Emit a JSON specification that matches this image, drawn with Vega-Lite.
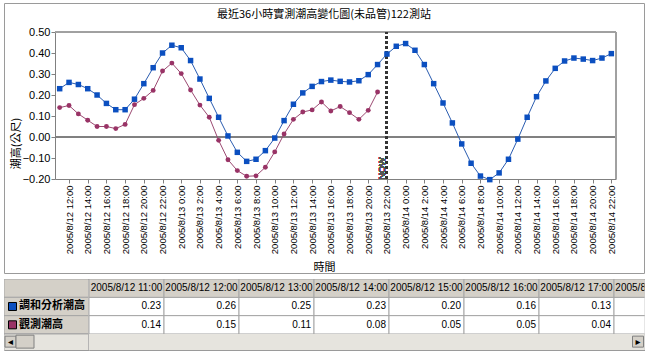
{
  "$schema": "https://vega.github.io/schema/vega-lite/v6.json",
  "padding": {"left": 2, "top": 2, "right": 0, "bottom": 0},
  "background": "white",
  "bounds": "flush",
  "spacing": 6,
  "config": {"view": {"stroke": "#9a9a9a", "strokeWidth": 1}, "font": "Liberation Sans"},
  "datasets": {
    "tide": [
      {"t": "2005-08-12T11:00Z", "h": 0.23, "o": 0.14},
      {"t": "2005-08-12T12:00Z", "h": 0.26, "o": 0.15},
      {"t": "2005-08-12T13:00Z", "h": 0.25, "o": 0.11},
      {"t": "2005-08-12T14:00Z", "h": 0.23, "o": 0.08},
      {"t": "2005-08-12T15:00Z", "h": 0.20, "o": 0.05},
      {"t": "2005-08-12T16:00Z", "h": 0.16, "o": 0.05},
      {"t": "2005-08-12T17:00Z", "h": 0.13, "o": 0.04},
      {"t": "2005-08-12T18:00Z", "h": 0.13, "o": 0.06},
      {"t": "2005-08-12T19:00Z", "h": 0.18, "o": 0.154},
      {"t": "2005-08-12T20:00Z", "h": 0.254, "o": 0.184},
      {"t": "2005-08-12T21:00Z", "h": 0.33, "o": 0.222},
      {"t": "2005-08-12T22:00Z", "h": 0.40, "o": 0.314},
      {"t": "2005-08-12T23:00Z", "h": 0.437, "o": 0.352},
      {"t": "2005-08-13T00:00Z", "h": 0.425, "o": 0.302},
      {"t": "2005-08-13T01:00Z", "h": 0.364, "o": 0.224},
      {"t": "2005-08-13T02:00Z", "h": 0.276, "o": 0.152},
      {"t": "2005-08-13T03:00Z", "h": 0.184, "o": 0.094},
      {"t": "2005-08-13T04:00Z", "h": 0.094, "o": -0.016},
      {"t": "2005-08-13T05:00Z", "h": 0.005, "o": -0.108},
      {"t": "2005-08-13T06:00Z", "h": -0.073, "o": -0.16},
      {"t": "2005-08-13T07:00Z", "h": -0.116, "o": -0.187},
      {"t": "2005-08-13T08:00Z", "h": -0.106, "o": -0.185},
      {"t": "2005-08-13T09:00Z", "h": -0.065, "o": -0.144},
      {"t": "2005-08-13T10:00Z", "h": -0.005, "o": -0.071},
      {"t": "2005-08-13T11:00Z", "h": 0.078, "o": 0.014},
      {"t": "2005-08-13T12:00Z", "h": 0.156, "o": 0.084},
      {"t": "2005-08-13T13:00Z", "h": 0.21, "o": 0.119},
      {"t": "2005-08-13T14:00Z", "h": 0.241, "o": 0.129},
      {"t": "2005-08-13T15:00Z", "h": 0.264, "o": 0.167},
      {"t": "2005-08-13T16:00Z", "h": 0.271, "o": 0.124},
      {"t": "2005-08-13T17:00Z", "h": 0.265, "o": 0.145},
      {"t": "2005-08-13T18:00Z", "h": 0.262, "o": 0.116},
      {"t": "2005-08-13T19:00Z", "h": 0.268, "o": 0.084},
      {"t": "2005-08-13T20:00Z", "h": 0.297, "o": 0.127},
      {"t": "2005-08-13T21:00Z", "h": 0.345, "o": 0.214},
      {"t": "2005-08-13T22:00Z", "h": 0.395, "o": null},
      {"t": "2005-08-13T23:00Z", "h": 0.432, "o": null},
      {"t": "2005-08-14T00:00Z", "h": 0.445, "o": null},
      {"t": "2005-08-14T01:00Z", "h": 0.413, "o": null},
      {"t": "2005-08-14T02:00Z", "h": 0.345, "o": null},
      {"t": "2005-08-14T03:00Z", "h": 0.254, "o": null},
      {"t": "2005-08-14T04:00Z", "h": 0.162, "o": null},
      {"t": "2005-08-14T05:00Z", "h": 0.067, "o": null},
      {"t": "2005-08-14T06:00Z", "h": -0.033, "o": null},
      {"t": "2005-08-14T07:00Z", "h": -0.125, "o": null},
      {"t": "2005-08-14T08:00Z", "h": -0.186, "o": null},
      {"t": "2005-08-14T09:00Z", "h": -0.203, "o": null},
      {"t": "2005-08-14T10:00Z", "h": -0.171, "o": null},
      {"t": "2005-08-14T11:00Z", "h": -0.106, "o": null},
      {"t": "2005-08-14T12:00Z", "h": -0.01, "o": null},
      {"t": "2005-08-14T13:00Z", "h": 0.094, "o": null},
      {"t": "2005-08-14T14:00Z", "h": 0.192, "o": null},
      {"t": "2005-08-14T15:00Z", "h": 0.267, "o": null},
      {"t": "2005-08-14T16:00Z", "h": 0.327, "o": null},
      {"t": "2005-08-14T17:00Z", "h": 0.362, "o": null},
      {"t": "2005-08-14T18:00Z", "h": 0.376, "o": null},
      {"t": "2005-08-14T19:00Z", "h": 0.371, "o": null},
      {"t": "2005-08-14T20:00Z", "h": 0.364, "o": null},
      {"t": "2005-08-14T21:00Z", "h": 0.376, "o": null},
      {"t": "2005-08-14T22:00Z", "h": 0.397, "o": null}
    ],
    "tbl": [
      {"col": "2005/8/12 11:00", "row": "調和分析潮高", "val": 0.23},
      {"col": "2005/8/12 12:00", "row": "調和分析潮高", "val": 0.26},
      {"col": "2005/8/12 13:00", "row": "調和分析潮高", "val": 0.25},
      {"col": "2005/8/12 14:00", "row": "調和分析潮高", "val": 0.23},
      {"col": "2005/8/12 15:00", "row": "調和分析潮高", "val": 0.20},
      {"col": "2005/8/12 16:00", "row": "調和分析潮高", "val": 0.16},
      {"col": "2005/8/12 17:00", "row": "調和分析潮高", "val": 0.13},
      {"col": "2005/8/12 18:00", "row": "調和分析潮高", "val": 0.13},
      {"col": "2005/8/12 11:00", "row": "觀測潮高", "val": 0.14},
      {"col": "2005/8/12 12:00", "row": "觀測潮高", "val": 0.15},
      {"col": "2005/8/12 13:00", "row": "觀測潮高", "val": 0.11},
      {"col": "2005/8/12 14:00", "row": "觀測潮高", "val": 0.08},
      {"col": "2005/8/12 15:00", "row": "觀測潮高", "val": 0.05},
      {"col": "2005/8/12 16:00", "row": "觀測潮高", "val": 0.05},
      {"col": "2005/8/12 17:00", "row": "觀測潮高", "val": 0.04},
      {"col": "2005/8/12 18:00", "row": "觀測潮高", "val": 0.06}
    ],
    "series": [
      {"row": "head"},
      {"row": "調和分析潮高"},
      {"row": "觀測潮高"},
      {"row": "scroll"}
    ]
  },
  "vconcat": [
    {
      "width": 640,
      "height": 270,
      "title": {"text": "最近36小時實測潮高變化圖(未品管)122測站", "offset": -17, "anchor": "middle", "frame": "group", "font": "Noto Sans CJK TC", "fontSize": 11, "fontWeight": "normal", "color": "#000000"},
      "data": {"name": "tide"},
      "layer": [
        {
          "mark": {"type": "rule", "color": "#808080", "strokeWidth": 1},
          "encoding": {
            "x": {"datum": {"year": 2005, "month": 8, "date": 12, "hours": 10, "minutes": 30, "utc": true}, "type": "temporal"},
            "x2": {"datum": {"year": 2005, "month": 8, "date": 14, "hours": 22, "minutes": 30, "utc": true}},
            "y": {"datum": 0, "type": "quantitative"}
          }
        },
        {
          "mark": {"type": "rule", "color": "#a0a0a0", "strokeWidth": 1},
          "encoding": {
            "x": {"datum": {"year": 2005, "month": 8, "date": 12, "hours": 10, "minutes": 30, "utc": true}, "type": "temporal"},
            "x2": {"datum": {"year": 2005, "month": 8, "date": 14, "hours": 22, "minutes": 30, "utc": true}},
            "y": {"datum": 0.5, "type": "quantitative"}
          }
        },
        {
          "mark": {"type": "rule", "color": "#a0a0a0", "strokeWidth": 1},
          "encoding": {
            "x": {"datum": {"year": 2005, "month": 8, "date": 14, "hours": 22, "minutes": 30, "utc": true}, "type": "temporal"},
            "y": {"datum": -0.2, "type": "quantitative"},
            "y2": {"datum": 0.5}
          }
        },
        {
          "mark": {"type": "rule", "color": "#333333", "strokeWidth": 2, "strokeDash": [3, 2]},
          "encoding": {
            "x": {"datum": {"year": 2005, "month": 8, "date": 13, "hours": 22, "utc": true}, "type": "temporal"},
            "y": {"datum": -0.2, "type": "quantitative"},
            "y2": {"datum": 0.5}
          }
        },
        {
          "mark": {"type": "text", "text": "NOW", "angle": 270, "align": "left", "baseline": "bottom", "dx": -1.5, "fontSize": 9, "color": "#555555"},
          "encoding": {
            "x": {"datum": {"year": 2005, "month": 8, "date": 13, "hours": 22, "utc": true}, "type": "temporal"},
            "y": {"datum": -0.195, "type": "quantitative"}
          }
        },
        {
          "mark": {"type": "line", "color": "#9c4a72", "strokeWidth": 1, "point": {"filled": true, "shape": "circle", "size": 24, "fill": "#993366"}},
          "encoding": {
            "x": {"field": "t", "type": "temporal"},
            "y": {"field": "o", "type": "quantitative"}
          }
        },
        {
          "mark": {"type": "line", "color": "#2a5cb0", "strokeWidth": 1, "point": {"filled": true, "shape": "square", "size": 30, "fill": "#0b4fc0"}},
          "encoding": {
            "x": {
              "field": "t", "type": "temporal",
              "scale": {"type": "utc", "domain": [{"year": 2005, "month": 8, "date": 12, "hours": 10, "minutes": 30, "utc": true}, {"year": 2005, "month": 8, "date": 14, "hours": 22, "minutes": 30, "utc": true}], "range": [51, 612]},
              "axis": {
                "title": "時間", "format": "%Y/%-m/%-d %-H:%M",
                "tickCount": 40,
                "values": [
                  {"year": 2005, "month": 8, "date": 12, "hours": 12, "utc": true},
                  {"year": 2005, "month": 8, "date": 12, "hours": 14, "utc": true},
                  {"year": 2005, "month": 8, "date": 12, "hours": 16, "utc": true},
                  {"year": 2005, "month": 8, "date": 12, "hours": 18, "utc": true},
                  {"year": 2005, "month": 8, "date": 12, "hours": 20, "utc": true},
                  {"year": 2005, "month": 8, "date": 12, "hours": 22, "utc": true},
                  {"year": 2005, "month": 8, "date": 13, "hours": 0, "utc": true},
                  {"year": 2005, "month": 8, "date": 13, "hours": 2, "utc": true},
                  {"year": 2005, "month": 8, "date": 13, "hours": 4, "utc": true},
                  {"year": 2005, "month": 8, "date": 13, "hours": 6, "utc": true},
                  {"year": 2005, "month": 8, "date": 13, "hours": 8, "utc": true},
                  {"year": 2005, "month": 8, "date": 13, "hours": 10, "utc": true},
                  {"year": 2005, "month": 8, "date": 13, "hours": 12, "utc": true},
                  {"year": 2005, "month": 8, "date": 13, "hours": 14, "utc": true},
                  {"year": 2005, "month": 8, "date": 13, "hours": 16, "utc": true},
                  {"year": 2005, "month": 8, "date": 13, "hours": 18, "utc": true},
                  {"year": 2005, "month": 8, "date": 13, "hours": 20, "utc": true},
                  {"year": 2005, "month": 8, "date": 13, "hours": 22, "utc": true},
                  {"year": 2005, "month": 8, "date": 14, "hours": 0, "utc": true},
                  {"year": 2005, "month": 8, "date": 14, "hours": 2, "utc": true},
                  {"year": 2005, "month": 8, "date": 14, "hours": 4, "utc": true},
                  {"year": 2005, "month": 8, "date": 14, "hours": 6, "utc": true},
                  {"year": 2005, "month": 8, "date": 14, "hours": 8, "utc": true},
                  {"year": 2005, "month": 8, "date": 14, "hours": 10, "utc": true},
                  {"year": 2005, "month": 8, "date": 14, "hours": 12, "utc": true},
                  {"year": 2005, "month": 8, "date": 14, "hours": 14, "utc": true},
                  {"year": 2005, "month": 8, "date": 14, "hours": 16, "utc": true},
                  {"year": 2005, "month": 8, "date": 14, "hours": 18, "utc": true},
                  {"year": 2005, "month": 8, "date": 14, "hours": 20, "utc": true},
                  {"year": 2005, "month": 8, "date": 14, "hours": 22, "utc": true}
                ],
                "labelAngle": 270, "offset": -94, "grid": false, "labelOverlap": false,
                "domainColor": "#808080", "tickColor": "#808080", "tickSize": 4,
                "labelFontSize": 9.5, "labelColor": "#000000", "labelPadding": 2,
                "titleFont": "Noto Sans CJK TC", "titleFontSize": 11, "titleFontWeight": "normal", "titleColor": "#000000",
                "titleX": 320, "titleY": 88, "titleBaseline": "middle"
              }
            },
            "y": {
              "field": "h", "type": "quantitative",
              "scale": {"domain": [-0.2, 0.5], "range": [176, 29], "nice": false, "zero": false},
              "axis": {
                "title": "潮高(公尺)", "offset": -51, "grid": false, "format": ".2f",
                "tickCount": 20, "labelOverlap": false,
                "values": [-0.2, -0.1, 0, 0.1, 0.2, 0.3, 0.4, 0.5],
                "domainColor": "#808080", "tickColor": "#808080", "tickSize": 4,
                "labelFontSize": 11, "labelColor": "#000000", "labelPadding": 1,
                "titleFont": "Noto Sans CJK TC", "titleFontSize": 11, "titleFontWeight": "normal", "titleColor": "#000000",
                "titleY": 140, "titlePadding": 1
              }
            }
          }
        }
      ]
    },
    {
      "hconcat": [
        {
          "width": 84.5,
          "height": 71,
          "data": {"name": "series"},
          "encoding": {
            "x": {"datum": "lbl", "type": "nominal", "scale": {"type": "band", "paddingInner": 0, "paddingOuter": 0}, "axis": null},
            "y": {"field": "row", "type": "nominal", "scale": {"type": "band", "domain": ["head", "調和分析潮高", "觀測潮高", "scroll"], "range": [0, 73.3], "paddingInner": 0, "paddingOuter": 0}, "axis": null}
          },
          "layer": [
            {"mark": {"type": "rect", "fill": "#d4d0c8", "stroke": "#a6a6a6", "strokeWidth": 1, "clip": true}},
            {
              "transform": [{"filter": "datum.row == 'scroll'"}],
              "mark": {"type": "rect", "fill": "#e6e4de", "stroke": "#a6a6a6", "strokeWidth": 1, "clip": true}
            },
            {
              "transform": [{"filter": "datum.row == '調和分析潮高' || datum.row == '觀測潮高'"}],
              "mark": {"type": "point", "shape": "square", "filled": true, "size": 64, "stroke": "#000000", "strokeWidth": 1, "opacity": 1, "xOffset": 8.5},
              "encoding": {
                "x": {"datum": "lbl", "type": "nominal", "bandPosition": 0},
                "fill": {"field": "row", "type": "nominal", "scale": {"domain": ["調和分析潮高", "觀測潮高"], "range": ["#0b4fc0", "#993366"]}, "legend": null}
              }
            },
            {
              "transform": [{"filter": "datum.row == '調和分析潮高' || datum.row == '觀測潮高'"}],
              "mark": {"type": "text", "align": "left", "baseline": "middle", "xOffset": 15, "font": "Noto Sans CJK TC", "fontSize": 11, "fontWeight": "bold", "color": "#000000"},
              "encoding": {
                "x": {"datum": "lbl", "type": "nominal", "bandPosition": 0},
                "text": {"field": "row"}
              }
            },
            {
              "transform": [{"filter": "datum.row == 'scroll'"}],
              "mark": {"type": "point", "shape": "square", "filled": true, "size": 121, "fill": "#d4d0c8", "stroke": "#808080", "strokeWidth": 1, "opacity": 1, "xOffset": 6.5, "yOffset": -1.5},
              "encoding": {"x": {"datum": "lbl", "type": "nominal", "bandPosition": 0}}
            },
            {
              "transform": [{"filter": "datum.row == 'scroll'"}],
              "mark": {"type": "point", "shape": "M-1,-0.72L1,-0.72L1,0.72L-1,0.72Z", "filled": true, "size": 324, "fill": "#d4d0c8", "stroke": "#808080", "strokeWidth": 1, "opacity": 1, "xOffset": 21, "yOffset": -1.5},
              "encoding": {"x": {"datum": "lbl", "type": "nominal", "bandPosition": 0}}
            },
            {
              "transform": [{"filter": "datum.row == 'scroll'"}],
              "mark": {"type": "text", "text": "◂", "font": "DejaVu Sans", "fontSize": 10, "color": "#000000", "align": "center", "baseline": "middle", "xOffset": 6.5, "yOffset": -1.5},
              "encoding": {"x": {"datum": "lbl", "type": "nominal", "bandPosition": 0}}
            }
          ]
        },
        {
          "width": 555.5,
          "height": 71,
          "data": {"name": "tbl"},
          "encoding": {
            "x": {"field": "col", "type": "ordinal", "scale": {"type": "band", "domain": ["2005/8/12 11:00", "2005/8/12 12:00", "2005/8/12 13:00", "2005/8/12 14:00", "2005/8/12 15:00", "2005/8/12 16:00", "2005/8/12 17:00", "2005/8/12 18:00"], "range": [0, 600], "paddingInner": 0, "paddingOuter": 0}, "axis": null},
            "y": {"field": "row", "type": "nominal", "scale": {"type": "band", "domain": ["head", "調和分析潮高", "觀測潮高", "scroll"], "range": [0, 73.3], "paddingInner": 0, "paddingOuter": 0}, "axis": null}
          },
          "layer": [
            {"mark": {"type": "rect", "fill": "#ffffff", "stroke": "#a6a6a6", "strokeWidth": 1, "clip": true}},
            {
              "transform": [{"filter": "datum.col != '2005/8/12 18:00'"}],
              "mark": {"type": "text", "align": "right", "baseline": "middle", "dx": -3, "fontSize": 10, "color": "#000000", "clip": true},
              "encoding": {
                "x": {"field": "col", "type": "ordinal", "bandPosition": 1},
                "text": {"field": "val", "type": "quantitative", "format": ".2f"}
              }
            },
            {
              "transform": [{"filter": "datum.row == '調和分析潮高'"}],
              "mark": {"type": "rect", "fill": "#d4d0c8", "stroke": "#a6a6a6", "strokeWidth": 1, "clip": true},
              "encoding": {"y": {"datum": "head", "type": "nominal"}}
            },
            {
              "transform": [{"filter": "datum.row == '調和分析潮高'"}],
              "mark": {"type": "text", "align": "center", "baseline": "middle", "fontSize": 10, "color": "#000000", "clip": true},
              "encoding": {"y": {"datum": "head", "type": "nominal"}, "text": {"field": "col"}}
            },
            {
              "transform": [{"filter": "datum.row == '調和分析潮高'"}],
              "mark": {"type": "rect", "fill": "#e6e4de", "clip": true},
              "encoding": {"y": {"datum": "scroll", "type": "nominal"}}
            },
            {
              "transform": [{"filter": "datum.row == '調和分析潮高' && datum.col == '2005/8/12 18:00'"}],
              "mark": {"type": "point", "shape": "square", "filled": true, "size": 121, "fill": "#d4d0c8", "stroke": "#808080", "strokeWidth": 1, "opacity": 1, "xOffset": 24, "yOffset": -1.5},
              "encoding": {"x": {"field": "col", "type": "ordinal", "bandPosition": 0}, "y": {"datum": "scroll", "type": "nominal"}}
            },
            {
              "transform": [{"filter": "datum.row == '調和分析潮高' && datum.col == '2005/8/12 18:00'"}],
              "mark": {"type": "text", "text": "▸", "font": "DejaVu Sans", "fontSize": 10, "color": "#000000", "align": "center", "baseline": "middle", "xOffset": 24, "yOffset": -1.5},
              "encoding": {"x": {"field": "col", "type": "ordinal", "bandPosition": 0}, "y": {"datum": "scroll", "type": "nominal"}}
            }
          ]
        }
      ],
      "spacing": 0,
      "bounds": "flush"
    }
  ]
}
